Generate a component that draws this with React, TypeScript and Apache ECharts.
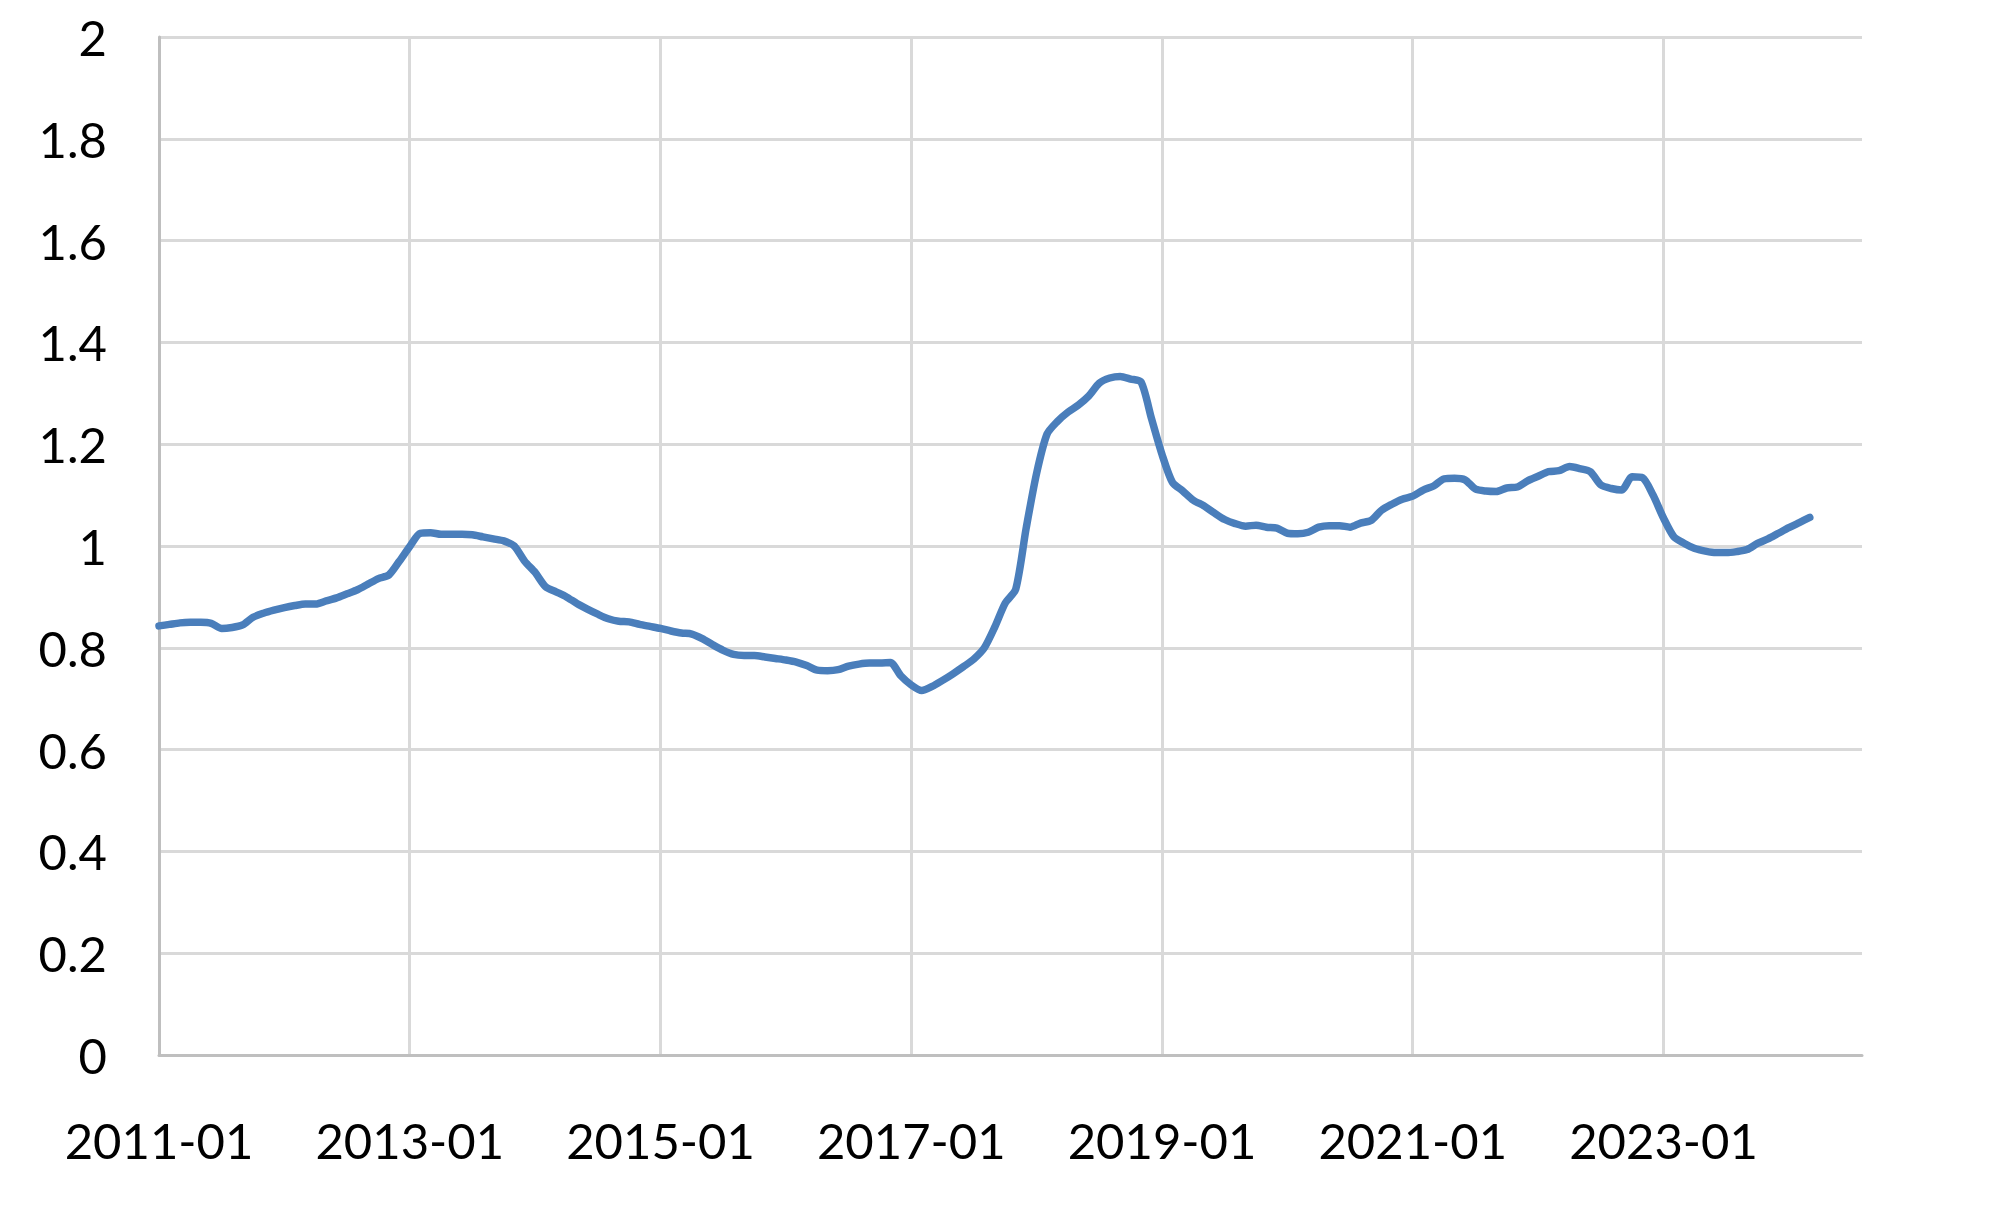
import React, { useEffect, useRef } from "react";
import * as echarts from "echarts";

// Monthly categories 2011-01 .. 2024-08
const startYear = 2011;
const monthCount = 164;
const categories: string[] = [];
for (let i = 0; i < monthCount; i++) {
  const y = startYear + Math.floor(i / 12);
  const m = (i % 12) + 1;
  categories.push(`${y}-${m < 10 ? "0" + m : m}`);
}

// Values (2011-01 .. 2024-03)
const values2011_2014: number[] = [
  0.843, 0.846, 0.849, 0.850, 0.850, 0.848, 0.838, 0.840, 0.845, 0.860, 0.868, 0.874,
  0.879, 0.883, 0.886, 0.886, 0.892, 0.898, 0.906, 0.914, 0.925, 0.936, 0.943, 0.970,
  0.999, 1.025, 1.026, 1.023, 1.023, 1.023, 1.022, 1.018, 1.014, 1.010, 1.000, 0.970,
  0.948, 0.920, 0.910, 0.900, 0.887, 0.876, 0.866, 0.857, 0.852, 0.851, 0.846, 0.842,
];
const values2015_2018: number[] = [
  0.838, 0.833, 0.829, 0.827, 0.818, 0.806, 0.795, 0.787, 0.785, 0.785, 0.782, 0.779,
  0.776, 0.772, 0.765, 0.756, 0.755, 0.757, 0.764, 0.768, 0.770, 0.770, 0.771, 0.745,
  0.727, 0.716, 0.724, 0.736, 0.749, 0.763, 0.778, 0.800, 0.841, 0.888, 0.915, 1.035,
  1.143, 1.220, 1.245, 1.263, 1.277, 1.295, 1.320, 1.330, 1.333, 1.328, 1.322, 1.250,
];
const values2019_2022: number[] = [
  1.180, 1.125, 1.108, 1.090, 1.079, 1.065, 1.052, 1.044, 1.039, 1.041, 1.037, 1.035,
  1.025, 1.024, 1.027, 1.037, 1.040, 1.040, 1.037, 1.045, 1.050, 1.070, 1.082, 1.092,
  1.098, 1.110, 1.118, 1.132, 1.133, 1.130, 1.112, 1.108, 1.107, 1.114, 1.116, 1.128,
  1.137, 1.146, 1.148, 1.156, 1.152, 1.146, 1.120, 1.113, 1.110, 1.136, 1.134, 1.100,
];
const values2023_2024: number[] = [
  1.055, 1.018, 1.005, 0.995, 0.990, 0.987, 0.987, 0.989, 0.993, 1.005, 1.014, 1.025,
  1.036, 1.046, 1.056,
];

const yMin = 0;
const yMax = 2;
const yStep = 0.2;

export default function App() {
  const ref = useRef<HTMLDivElement>(null);

  useEffect(() => {
    if (!ref.current) return;
    const chart = echarts.init(ref.current, undefined, { renderer: "svg" });
    const seriesData = [
      ...values2011_2014,
      ...values2015_2018,
      ...values2019_2022,
      ...values2023_2024,
    ];
    const font = "Lato, 'Open Sans', sans-serif";
    chart.setOption({
      animation: false,
      backgroundColor: "#ffffff",
      grid: { left: 159, right: 137, top: 37, bottom: 161, containLabel: false },
      xAxis: {
        type: "category",
        data: categories,
        boundaryGap: false,
        axisLine: { show: true, lineStyle: { color: "#bfbfbf", width: 3 } },
        axisTick: { show: false },
        axisLabel: {
          interval: 23,
          margin: 60,
          color: "#000000",
          fontSize: 49,
          fontFamily: font,
        },
        splitLine: {
          show: true,
          interval: 23,
          lineStyle: { color: "#d9d9d9", width: 3 },
        },
      },
      yAxis: {
        type: "value",
        min: yMin,
        max: yMax,
        interval: yStep,
        axisLine: { show: true, lineStyle: { color: "#bfbfbf", width: 3 } },
        axisTick: { show: false },
        axisLabel: {
          margin: 52,
          color: "#000000",
          fontSize: 49,
          fontFamily: font,
          formatter: (v: number) => String(+v.toFixed(1)),
        },
        splitLine: { show: true, lineStyle: { color: "#d9d9d9", width: 3 } },
      },
      series: [
        {
          type: "line",
          data: seriesData,
          showSymbol: false,
          smooth: 0.25,
          lineStyle: { color: "#4a7ebb", width: 7.5, cap: "round", join: "round" },
          itemStyle: { color: "#4a7ebb" },
          z: 5,
        },
      ],
    });
    return () => chart.dispose();
  }, []);

  return (
    <div
      ref={ref}
      style={{ position: "fixed", left: 0, top: 0, width: 1999, height: 1216 }}
    />
  );
}
